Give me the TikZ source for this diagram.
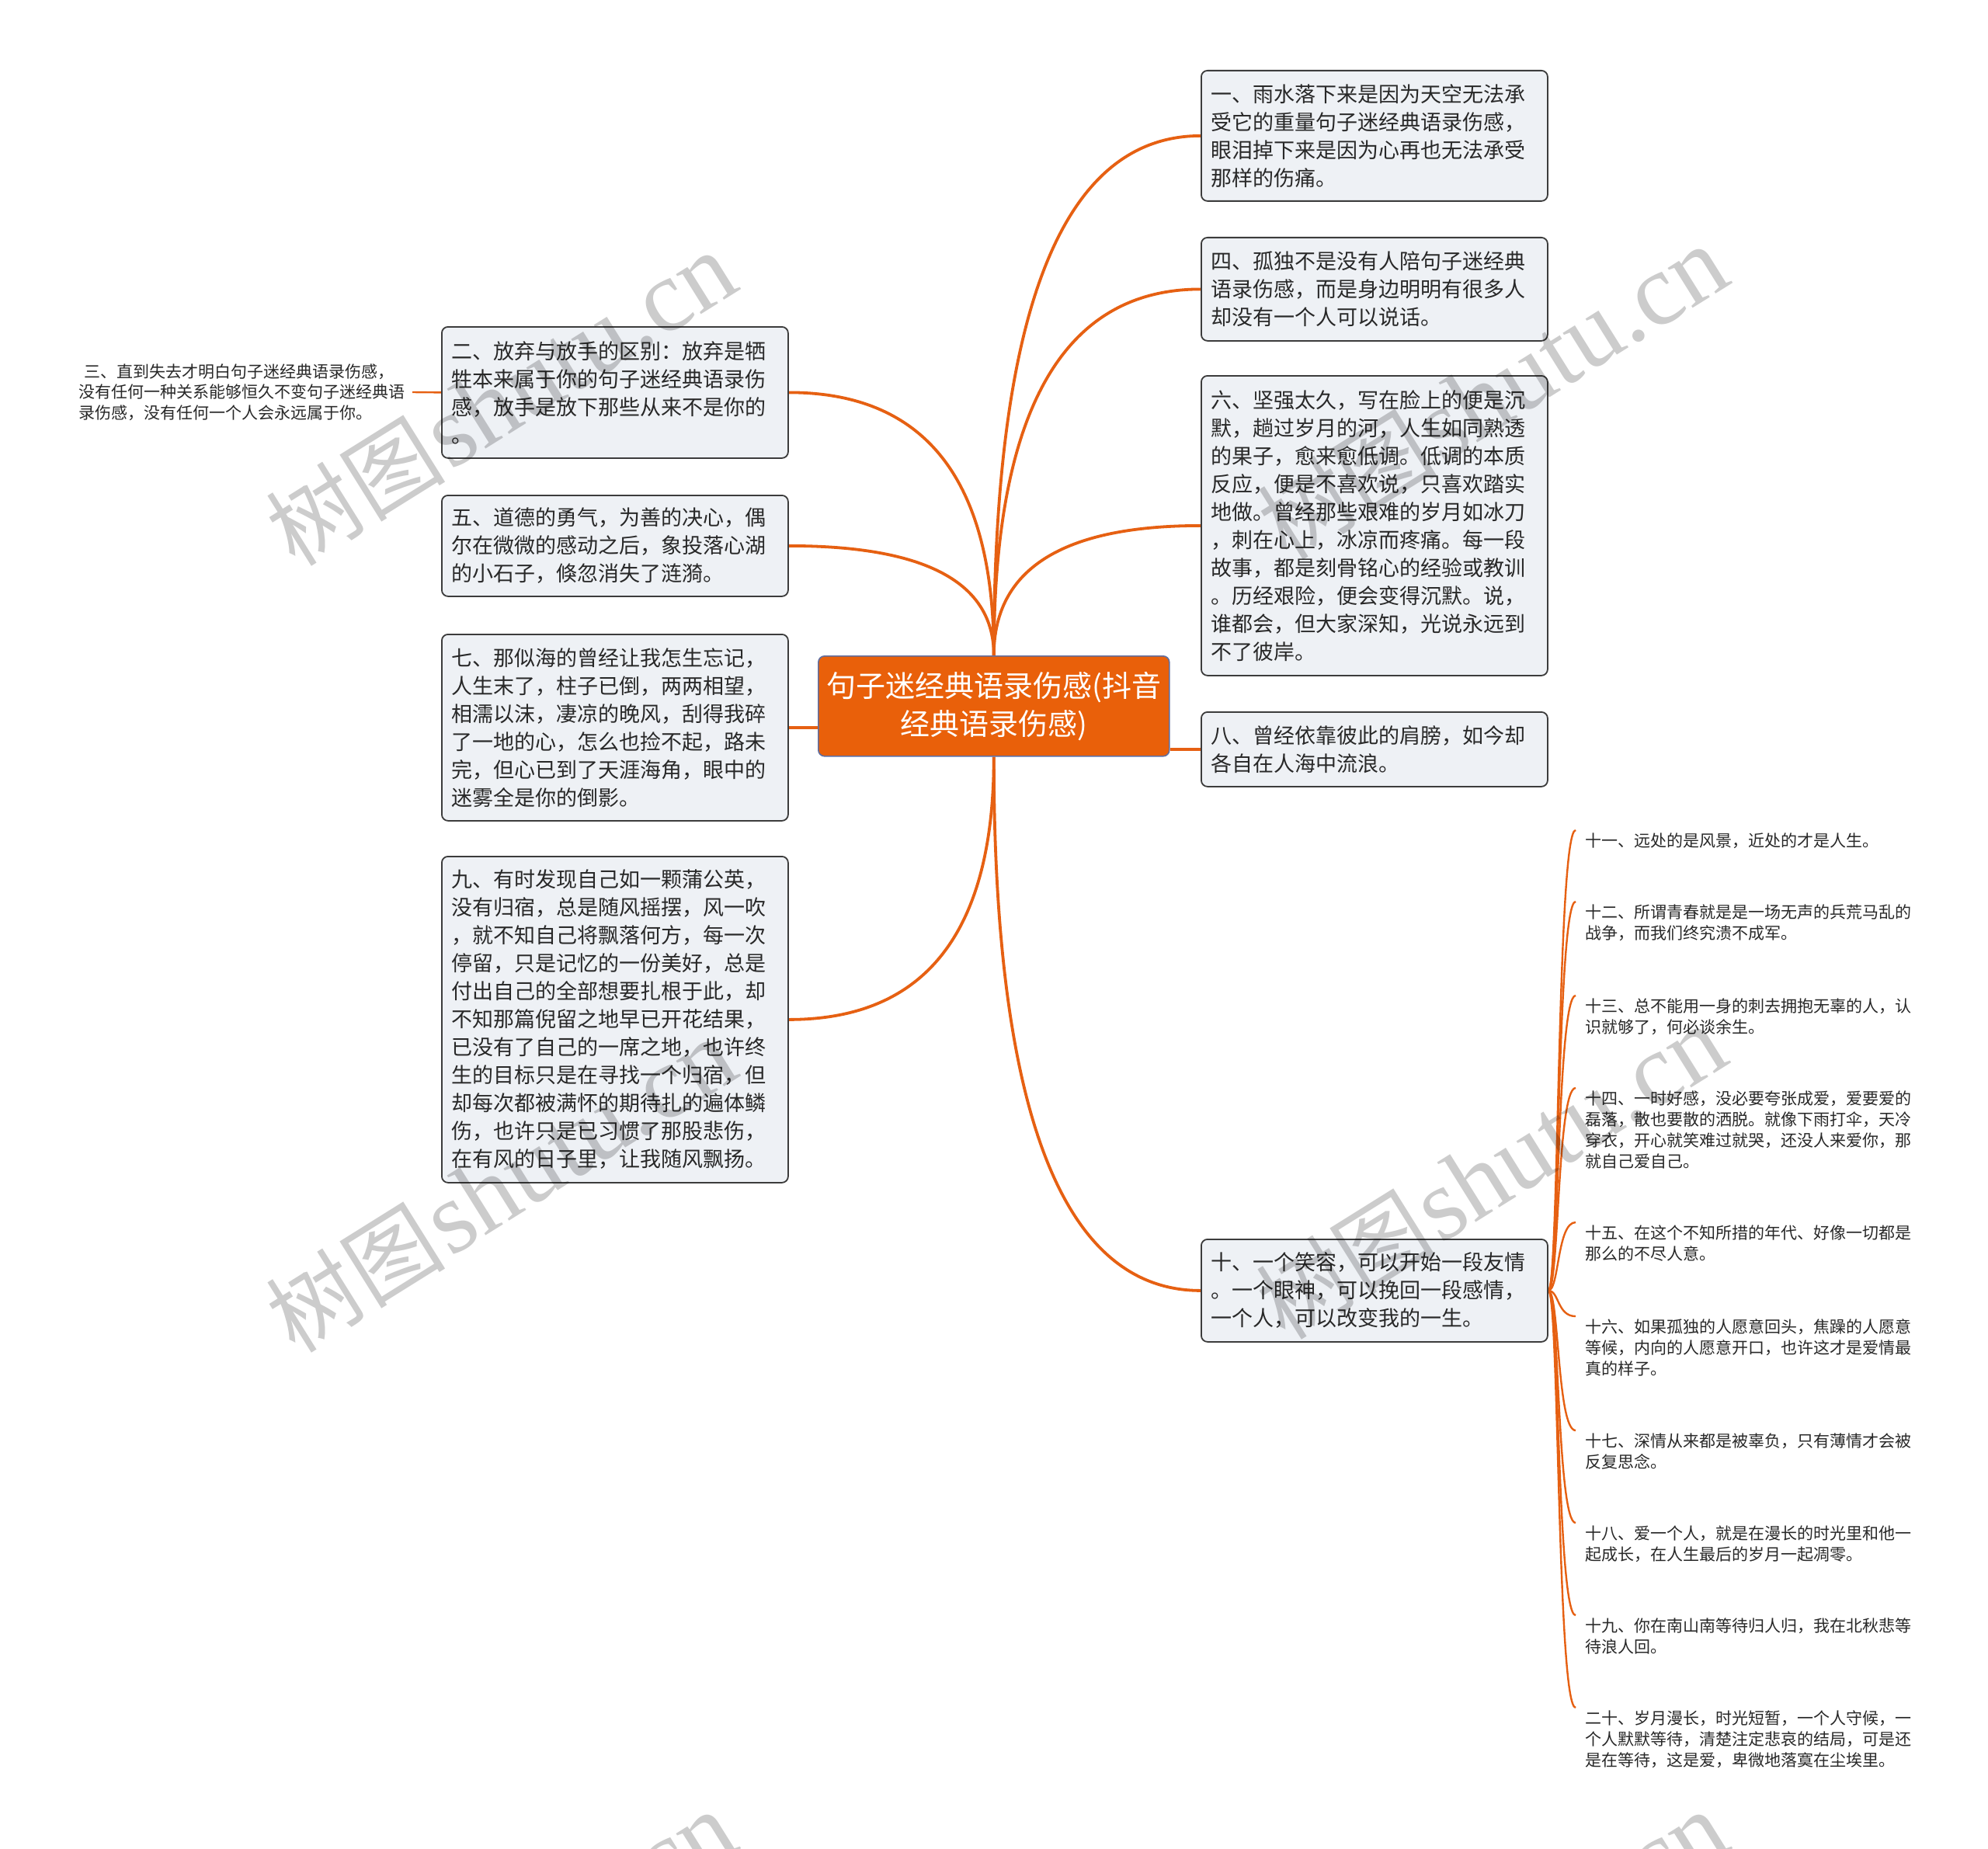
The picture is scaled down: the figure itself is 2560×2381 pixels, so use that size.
\documentclass[tikz,border=0pt]{standalone}
\usepackage{fontspec}
\newfontfamily\cjk{Noto Sans CJK SC}
\newfontfamily\wmserif{Liberation Serif}
\usetikzlibrary{calc,backgrounds}
\definecolor{orng}{RGB}{230,96,18}
\definecolor{ctrfill}{RGB}{233,96,10}
\definecolor{ctrborder}{RGB}{96,110,160}
\definecolor{boxfill}{RGB}{238,241,245}
\definecolor{boxborder}{RGB}{60,60,60}
\definecolor{txt}{RGB}{40,40,40}
\tikzset{
  topic/.style={draw=boxborder, fill=boxfill, rounded corners=4pt, line width=0.9pt,
    anchor=north west, text width=210pt, inner xsep=6.5pt, inner ysep=0pt, align=left,
    font=\cjk\fontsize{13.5pt}{18pt}\selectfont, text=txt},
  leaf/.style={anchor=north west, inner sep=0pt, text width=212pt, align=left,
    font=\cjk\fontsize{10.5pt}{13.5pt}\selectfont, text=txt},
  ctr/.style={draw=ctrborder, fill=ctrfill, rounded corners=4pt, line width=0.8pt,
    anchor=north west, minimum width=226pt, minimum height=64.5pt, align=center,
    font=\cjk\fontsize{19pt}{24.5pt}\selectfont, text=white, inner sep=0pt},
  conn/.style={draw=orng, line width=1.9pt},
  thin/.style={draw=orng, line width=1.2pt},
  qcurve/.style={to path={.. controls ($(\tikztostart)!0.667!(\tikztostart|-\tikztotarget)$) and ($(\tikztotarget)!0.667!(\tikztostart|-\tikztotarget)$) .. (\tikztotarget)}},
  wm/.style={rotate=32, text=black, opacity=0.2, inner sep=0pt}
}
\begin{document}
\begin{tikzpicture}[x=0.5pt,y=-0.5pt]
\begin{scope}[on background layer]
\fill[white] (0,0) rectangle (2560,2381);
\end{scope}
\useasboundingbox (0,0) rectangle (2560,2381);

% centre
\node[ctr] (c) at (1053,844) {句子迷经典语录伤感(抖音\\经典语录伤感)};

% right topics
\node[topic, minimum height=84pt] (b1) at (1546,90) {一、雨水落下来是因为天空无法承\\受它的重量句子迷经典语录伤感，\\眼泪掉下来是因为心再也无法承受\\那样的伤痛。};
\node[topic, minimum height=66.5pt] (b4) at (1546,305) {四、孤独不是没有人陪句子迷经典\\语录伤感，而是身边明明有很多人\\却没有一个人可以说话。};
\node[topic, minimum height=193pt] (b6) at (1546,483) {六、坚强太久，写在脸上的便是沉\\默，趟过岁月的河，人生如同熟透\\的果子，愈来愈低调。低调的本质\\反应，便是不喜欢说，只喜欢踏实\\地做。曾经那些艰难的岁月如冰刀\\，刺在心上，冰凉而疼痛。每一段\\故事，都是刻骨铭心的经验或教训\\。历经艰险，便会变得沉默。说，\\谁都会，但大家深知，光说永远到\\不了彼岸。};
\node[topic, minimum height=48pt] (b8) at (1546,916) {八、曾经依靠彼此的肩膀，如今却\\各自在人海中流浪。};
\node[topic, minimum height=66pt] (b10) at (1546,1595) {十、一个笑容，可以开始一段友情\\。一个眼神，可以挽回一段感情，\\一个人，可以改变我的一生。};

% left topics
\node[topic, minimum height=84.5pt] (b2) at (568,420) {二、放弃与放手的区别：放弃是牺\\牲本来属于你的句子迷经典语录伤\\感，放手是放下那些从来不是你的\\。};
\node[topic, minimum height=65pt] (b5) at (568,637) {五、道德的勇气，为善的决心，偶\\尔在微微的感动之后，象投落心湖\\的小石子，倏忽消失了涟漪。};
\node[topic, minimum height=120pt] (b7) at (568,816) {七、那似海的曾经让我怎生忘记，\\人生末了，柱子已倒，两两相望，\\相濡以沫，凄凉的晚风，刮得我碎\\了一地的心，怎么也捡不起，路未\\完，但心已到了天涯海角，眼中的\\迷雾全是你的倒影。};
\node[topic, minimum height=210pt] (b9) at (568,1102) {九、有时发现自己如一颗蒲公英，\\没有归宿，总是随风摇摆，风一吹\\，就不知自己将飘落何方，每一次\\停留，只是记忆的一份美好，总是\\付出自己的全部想要扎根于此，却\\不知那篇倪留之地早已开花结果，\\已没有了自己的一席之地，也许终\\生的目标只是在寻找一个归宿，但\\却每次都被满怀的期待扎的遍体鳞\\伤，也许只是已习惯了那股悲伤，\\在有风的日子里，让我随风飘扬。};

% sub-topic of 二
\node[leaf, font=\cjk\fontsize{10.5pt}{13.25pt}\selectfont] (t3) at (101,468) {\hspace*{0.35em}三、直到失去才明白句子迷经典语录伤感，\\没有任何一种关系能够恒久不变句子迷经典语\\录伤感，没有任何一个人会永远属于你。};
\coordinate (t3end) at (531,505);

% sub-topics of 十
\node[leaf] (l11) at (2041,1072) {十一、远处的是风景，近处的才是人生。};
\node[leaf] (l12) at (2041,1164) {十二、所谓青春就是是一场无声的兵荒马乱的\\战争，而我们终究溃不成军。};
\node[leaf] (l13) at (2041,1285) {十三、总不能用一身的刺去拥抱无辜的人，认\\识就够了，何必谈余生。};
\node[leaf] (l14) at (2041,1404) {十四、一时好感，没必要夸张成爱，爱要爱的\\磊落，散也要散的洒脱。就像下雨打伞，天冷\\穿衣，开心就笑难过就哭，还没人来爱你，那\\就自己爱自己。};
\node[leaf] (l15) at (2041,1577) {十五、在这个不知所措的年代、好像一切都是\\那么的不尽人意。};
\node[leaf] (l16) at (2041,1698) {十六、如果孤独的人愿意回头，焦躁的人愿意\\等候，内向的人愿意开口，也许这才是爱情最\\真的样子。};
\node[leaf] (l17) at (2041,1845) {十七、深情从来都是被辜负，只有薄情才会被\\反复思念。};
\node[leaf] (l18) at (2041,1964) {十八、爱一个人，就是在漫长的时光里和他一\\起成长，在人生最后的岁月一起凋零。};
\node[leaf] (l19) at (2041,2083) {十九、你在南山南等待归人归，我在北秋悲等\\待浪人回。};
\node[leaf] (l20) at (2041,2202) {二十、岁月漫长，时光短暂，一个人守候，一\\个人默默等待，清楚注定悲哀的结局，可是还\\是在等待，这是爱，卑微地落寞在尘埃里。};

\foreach \i in {11,...,20} {
  \coordinate (e\i) at ([xshift=-6pt,yshift=1.5pt]l\i.north west);
}

% connectors
\begin{scope}[on background layer]
\draw[conn] (c.north) to[qcurve] (b1.west);
\draw[conn] (c.north) to[qcurve] (b4.west);
\draw[conn] (c.north) to[qcurve] (b6.west);
\draw[conn] (c.east |- b8.west) -- (b8.west);
\draw[conn] (c.south) to[qcurve] (b10.west);
\draw[conn] (c.north) to[qcurve] (b2.east);
\draw[conn] (c.north) to[qcurve] (b5.east);
\draw[conn] (c.west |- b7.east) -- (b7.east);
\draw[conn] (c.south) to[qcurve] (b9.east);
\draw[thin] (b2.west) -- (t3end);
\foreach \i in {11,...,20} {
  \draw[thin] (b10.east) .. controls +(7pt,0) and +(-12pt,0) .. (e\i);
}
\end{scope}

% watermarks
\begin{scope}
\clip (0,0) rectangle (2560,2381);
\foreach \p in {(645,514),(1922,506),(645,1527),(1920,1510),(645,2522),(1922,2522)} {
  \node[wm] at \p {{\cjk\fontsize{58pt}{58pt}\selectfont 树图}\,{\wmserif\fontsize{66pt}{66pt}\selectfont shutu.cn}};
}
\end{scope}
\end{tikzpicture}
\end{document}
